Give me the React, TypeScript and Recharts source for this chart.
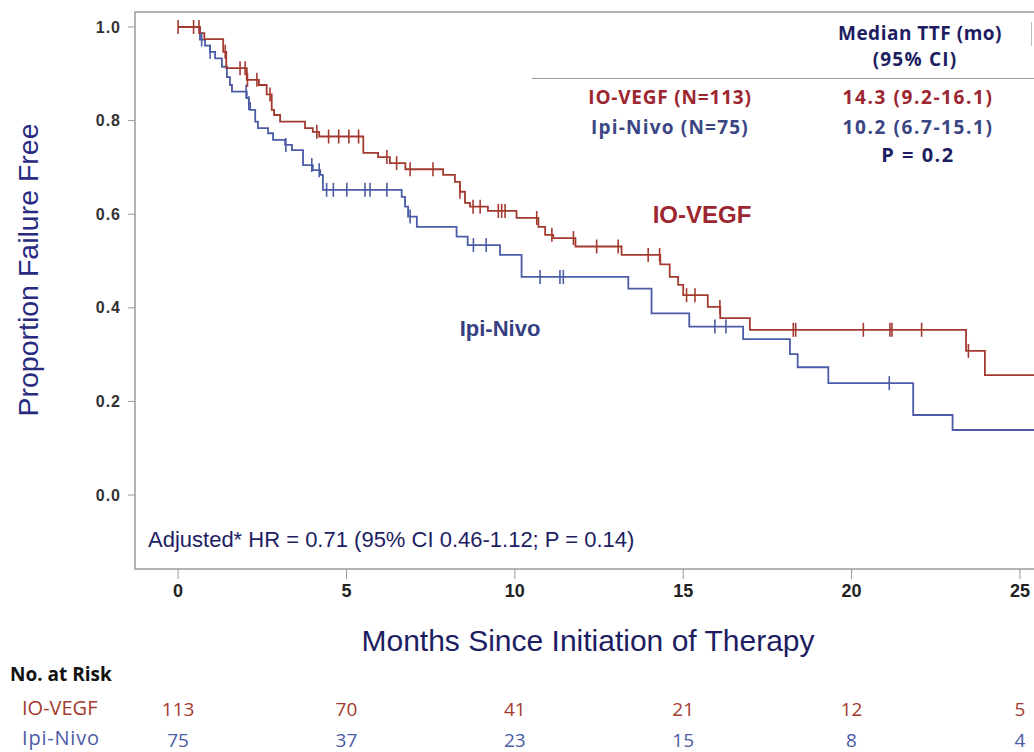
import { ComposedChart, Line, Scatter, XAxis, YAxis, ReferenceArea } from 'recharts';

// x ticks (months) and y ticks
const monthTicks = [0, 5, 10, 15, 20, 25];
const proportionTicks = [0, 0.2, 0.4, 0.6, 0.8, 1.0];

// number at risk under each month tick
const ioVegfAtRisk = [113, 70, 41, 21, 12, 5];
const ipiNivoAtRisk = [75, 37, 23, 15, 8, 4];

// KM steps: [month, proportion after the drop]
const ioVegfCurve: [number, number][] = [
  [0, 1.0], [0.65, 0.987], [0.78, 0.974], [1.34, 0.947], [1.43, 0.912],
  [2.04, 0.887], [2.4, 0.876], [2.63, 0.856], [2.78, 0.823], [2.85, 0.812],
  [3.03, 0.798], [3.77, 0.784], [4.0, 0.776], [4.19, 0.766], [5.5, 0.731],
  [5.94, 0.722], [6.29, 0.709], [6.75, 0.696], [7.87, 0.684], [8.22, 0.669],
  [8.37, 0.648], [8.52, 0.624], [8.67, 0.616], [9.2, 0.607], [10.05, 0.592],
  [10.7, 0.573], [10.9, 0.556], [11.14, 0.549], [11.8, 0.531], [13.17, 0.513],
  [14.32, 0.493], [14.6, 0.466], [14.85, 0.449], [15.0, 0.427], [15.73, 0.402],
  [16.1, 0.378], [16.98, 0.353], [23.4, 0.308], [23.96, 0.256], [26.2, 0.256],
];

const ipiNivoCurve: [number, number][] = [
  [0, 1.0], [0.65, 0.973], [0.8, 0.96], [0.95, 0.947], [1.1, 0.933],
  [1.3, 0.915], [1.45, 0.893], [1.54, 0.876], [1.6, 0.862], [2.04, 0.848],
  [2.1, 0.837], [2.14, 0.823], [2.29, 0.798], [2.37, 0.784], [2.67, 0.773],
  [2.82, 0.759], [3.18, 0.748], [3.38, 0.737], [3.71, 0.705], [4.0, 0.694],
  [4.22, 0.684], [4.3, 0.652], [6.64, 0.637], [6.74, 0.616], [6.83, 0.595],
  [7.09, 0.573], [8.27, 0.552], [8.6, 0.534], [9.56, 0.513], [10.2, 0.466],
  [13.37, 0.441], [14.06, 0.388], [15.18, 0.36], [16.78, 0.333], [18.17, 0.301],
  [18.4, 0.273], [19.31, 0.239], [21.83, 0.171], [23.0, 0.139], [26.2, 0.139],
];

// censoring times (months)
const ioVegfCensored = [
  0, 0.46, 0.62, 1.4, 1.84, 1.99, 2.06, 2.34, 2.73, 4.12, 4.47, 4.77, 5.07, 5.36,
  6.2, 6.49, 6.89, 7.57, 8.37, 8.76, 8.97, 9.51, 9.61, 9.71, 10.65, 11.1, 11.74,
  12.43, 13.07, 13.96, 14.3, 15.1, 15.35, 16.09, 18.27, 18.34, 20.35, 21.14, 21.2,
  22.08, 23.47,
];
const ipiNivoCensored = [
  0.7, 0.95, 2.02, 2.1, 3.2, 3.97, 4.19, 4.41, 4.61, 5.01, 5.55, 5.7, 6.2, 6.89,
  8.77, 9.15, 10.75, 11.34, 11.44, 15.94, 16.27, 21.12,
];

const RED = '#a33a30';
const BLUE = '#4b5ba6';
const NAVY = '#1d1d62';

function survivalAt(curve: [number, number][], t: number) {
  let s = 1;
  for (const [ti, si] of curve) {
    if (ti <= t) s = si;
    else break;
  }
  return s;
}

const toRows = (curve: [number, number][]) => curve.map(([t, s]) => ({ t, s }));
const toCensor = (curve: [number, number][], times: number[]) =>
  times.map((t) => ({ t, s: survivalAt(curve, t) }));

const censorMark = (color: string) => (props: any) => {
  const { cx, cy } = props;
  return <line x1={cx} x2={cx} y1={cy - 7} y2={cy + 7} stroke={color} strokeWidth={1.6} />;
};

function MonthTick(props: any) {
  const { x, y, payload, index } = props;
  return (
    <g>
      <text x={x} y={y + 16} textAnchor="middle" fontFamily="'Liberation Sans Narrow', 'Liberation Sans', sans-serif"
        fontWeight="bold" fontSize={18} fill="#222">
        {payload.value}
      </text>
      <text x={x} y={y + 135} textAnchor="middle" fontFamily="'Open Sans', sans-serif" fontSize={19} fill={RED}>
        {ioVegfAtRisk[index]}
      </text>
      <text x={x} y={y + 166} textAnchor="middle" fontFamily="'Open Sans', sans-serif" fontSize={19} fill={BLUE}>
        {ipiNivoAtRisk[index]}
      </text>
    </g>
  );
}

const abs = (left: number, top: number, extra: React.CSSProperties = {}): React.CSSProperties => ({
  position: 'absolute',
  left,
  top,
  transform: 'translate(-50%, -50%)',
  whiteSpace: 'nowrap',
  lineHeight: 1,
  ...extra,
});

const calibriLike = "'Open Sans', sans-serif";
const tableText = (color: string, size: number, spacing: number): React.CSSProperties => ({
  fontFamily: calibriLike,
  fontWeight: 'bold',
  fontSize: size,
  letterSpacing: spacing,
  color,
});

export default function App() {
  const xMin = -1.28;
  const xMax = 26.22;
  const yMin = -0.158;
  const yMax = 1.032;

  return (
    <div style={{ position: 'fixed', left: 0, top: 0, width: 1034, height: 752, overflow: 'hidden', background: '#fff', fontFamily: "'Liberation Sans', Arial, sans-serif" }}>
      <ComposedChart width={1070} height={752} margin={{ top: 12, right: 9, bottom: 0, left: 0 }}>
        <XAxis
          type="number"
          dataKey="t"
          domain={[xMin, xMax]}
          ticks={monthTicks}
          allowDataOverflow
          axisLine={false}
          tickLine={{ stroke: '#999' }}
          tickSize={10}
          height={183}
          tick={<MonthTick />}
          interval={0}
        />
        <YAxis
          type="number"
          dataKey="s"
          domain={[yMin, yMax]}
          ticks={proportionTicks}
          allowDataOverflow
          width={135}
          axisLine={false}
          tickLine={{ stroke: '#999' }}
          tickSize={7}
          tickMargin={7}
          tickFormatter={(v: number) => v.toFixed(1)}
          tick={{ fontFamily: "'Liberation Sans', Arial, sans-serif", fontWeight: 'bold', fontSize: 16, fill: '#333', letterSpacing: 1 }}
        />
        <ReferenceArea x1={xMin} x2={xMax} y1={yMin} y2={yMax} fill="none" stroke="#9a9a9a" strokeWidth={1.5} ifOverflow="visible" />
        <Line data={toRows(ipiNivoCurve)} dataKey="s" type="stepAfter" stroke={BLUE} strokeWidth={1.8} dot={false} isAnimationActive={false} />
        <Line data={toRows(ioVegfCurve)} dataKey="s" type="stepAfter" stroke={RED} strokeWidth={1.8} dot={false} isAnimationActive={false} />
        <Scatter data={toCensor(ipiNivoCurve, ipiNivoCensored)} dataKey="s" shape={censorMark(BLUE)} isAnimationActive={false} />
        <Scatter data={toCensor(ioVegfCurve, ioVegfCensored)} dataKey="s" shape={censorMark(RED)} isAnimationActive={false} />
      </ComposedChart>

      {/* axis titles */}
      <div style={abs(28, 270, { transform: 'translate(-50%, -50%) rotate(-90deg)', fontSize: 28.5, color: '#282b80' })}>
        Proportion Failure Free
      </div>
      <div style={abs(588, 641, { fontSize: 30, color: NAVY })}>Months Since Initiation of Therapy</div>

      {/* in-plot labels */}
      <div style={abs(702, 215, { fontSize: 24, fontWeight: 'bold', color: '#9c2630' })}>IO-VEGF</div>
      <div style={abs(500, 329, { fontSize: 22, fontWeight: 'bold', color: '#34407f' })}>Ipi-Nivo</div>
      <div style={{ position: 'absolute', left: 148, top: 529, fontSize: 22, lineHeight: 1, whiteSpace: 'nowrap', color: NAVY }}>
        Adjusted* HR = 0.71 (95% CI 0.46-1.12; P = 0.14)
      </div>

      {/* median table */}
      <div style={{ position: 'absolute', left: 532, top: 78, width: 520, borderTop: '1.5px solid #999' }} />
      <div style={{ position: 'absolute', left: 1031, top: 22, height: 24, borderLeft: '1.5px solid #bbb' }} />
      <div style={abs(920, 33, tableText(NAVY, 19, 0.5))}>Median TTF (mo)</div>
      <div style={abs(915, 59, tableText(NAVY, 19, 1.2))}>(95% CI)</div>
      <div style={abs(670, 97, tableText('#9c2630', 19, 0.8))}>IO-VEGF (N=113)</div>
      <div style={abs(918, 97, tableText('#9c2630', 19, 1.6))}>14.3 (9.2-16.1)</div>
      <div style={abs(670, 127, tableText('#3a4684', 19, 1.2))}>Ipi-Nivo (N=75)</div>
      <div style={abs(918, 127, tableText('#3a4684', 19, 1.6))}>10.2 (6.7-15.1)</div>
      <div style={abs(918, 155, tableText(NAVY, 20, 1.5))}>P = 0.2</div>

      {/* number at risk labels */}
      <div style={{ position: 'absolute', left: 10, top: 663, fontFamily: calibriLike, fontWeight: 'bold', fontSize: 19, lineHeight: 1.2, color: '#111' }}>No. at Risk</div>
      <div style={{ position: 'absolute', left: 22, top: 696, fontFamily: calibriLike, fontSize: 20, lineHeight: 1.2, color: RED }}>IO-VEGF</div>
      <div style={{ position: 'absolute', left: 22, top: 726, fontFamily: calibriLike, fontSize: 20, lineHeight: 1.2, letterSpacing: 0.8, color: BLUE }}>Ipi-Nivo</div>
    </div>
  );
}
